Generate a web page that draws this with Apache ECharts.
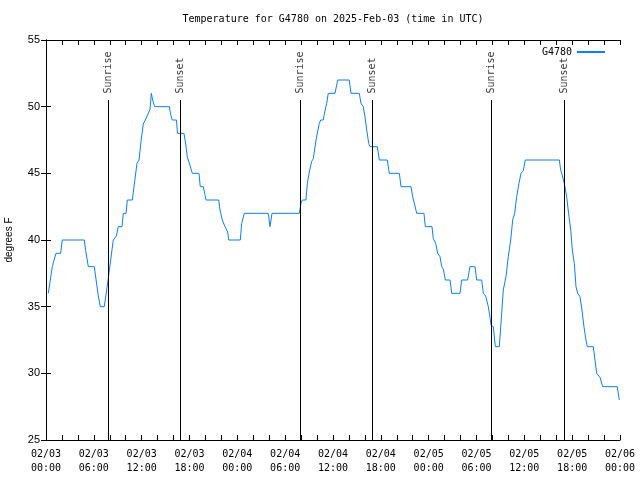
<!DOCTYPE html>
<html>
<head>
<meta charset="utf-8">
<script src="https://cdn.jsdelivr.net/npm/echarts@6/dist/echarts.min.js"></script>
<style>html,body{margin:0;padding:0;background:#fff}#c{width:640px;height:480px}</style>
</head>
<body>
<div id="c"></div>
<script>
// hours since 02/03 00:00 UTC
var hours = [0.29,0.79,1.00,1.25,1.84,2.04,4.80,4.98,5.31,6.06,6.56,6.81,7.31,7.74,8.44,8.82,9.07,9.53,9.70,10.04,
10.20,10.83,11.41,11.67,11.92,12.20,12.46,12.71,13.05,13.21,13.38,13.63,15.47,15.64,15.84,16.37,16.49,17.31,17.52,17.72,
18.06,18.35,19.19,19.35,19.73,19.94,20.07,21.66,21.83,22.11,22.45,22.79,22.92,24.37,24.55,24.87,27.88,28.10,28.35,31.77,
31.99,32.15,32.61,32.78,33.03,33.33,33.53,33.87,34.28,34.46,34.78,34.96,35.21,35.41,36.25,36.59,38.04,38.26,39.30,39.51,
39.80,40.01,40.23,40.48,40.64,41.56,41.81,42.81,43.06,44.32,44.53,45.78,46.00,46.50,47.41,47.58,48.42,48.58,48.88,49.13,
49.42,49.64,49.84,50.09,50.68,50.89,51.93,52.14,52.89,53.18,53.81,54.02,54.65,54.85,55.15,55.48,55.69,55.82,56.11,56.36,
56.86,57.16,57.36,57.70,57.99,58.29,58.54,58.79,59.04,59.33,59.58,59.87,60.12,64.39,64.56,64.69,64.89,65.01,65.31,65.60,
65.82,66.02,66.27,66.48,66.69,66.98,67.23,67.48,67.73,67.90,68.65,68.86,69.08,69.33,69.49,69.83,71.66,71.91];
var temps = [36,38,38,39,39,40,40,39.2,38,38,35.8,35,35,36.8,40,40.3,41,41,42,42,
43,43,45.75,46,47.4,48.7,49,49.1,49.8,51,50.5,50,50,49.4,49,49,48,48,47.2,46.25,
45.6,45,45,44,44,43.4,43,43,42.25,41.5,41,40.6,40,40,41.25,42,42,41,42,42,
42.75,43,43,44.25,45.1,45.9,46.1,47.5,48.75,49,49,49.6,50.25,51,51,52,52,51,51,50.25,
50,49.25,48.25,47.25,47,47,46,46,45,45,44,44,43.25,42,42,41,41,40.1,39.75,39,
38.75,38,37.8,37,37,36,36,37,37,38,38,37,37,36,35.8,35,34.25,33.6,33.5,32,
32,34.5,36.25,37.25,38.75,40,41.5,42,43.25,44.25,45,45.2,46,46,45.25,45,45,44.25,43.25,41.75,
40.75,39.25,38.25,36.5,36,35.75,34.75,33.5,32.5,32,32,31,30,30,29.7,29,29,28];

var eventHours = [7.81, 16.87, 31.92, 40.98, 55.86, 65.01];
var eventNames = ['Sunrise','Sunset','Sunrise','Sunset','Sunrise','Sunset'];
var eventTop = 50.5;

var xTickLabels = ['02/03\n00:00','02/03\n06:00','02/03\n12:00','02/03\n18:00','02/04\n00:00','02/04\n06:00',
'02/04\n12:00','02/04\n18:00','02/05\n00:00','02/05\n06:00','02/05\n12:00','02/05\n18:00','02/06\n00:00'];
var yTicks = [25,30,35,40,45,50,55];

var lineData = hours.map(function(h,i){return [h,temps[i]];});
var markData = eventHours.map(function(h){return [{coord:[h,25]},{coord:[h,eventTop]}];});
var labelData = eventHours.map(function(h,i){return {value:[h,eventTop],name:eventNames[i]};});

var mono = 'DejaVu Sans Mono';
var chart = echarts.init(document.getElementById('c'), null, {renderer:'canvas'});
chart.setOption({
  animation:false,
  backgroundColor:'#fff',
  graphic:[{type:'text', x:333, y:19, style:{text:'Temperature for G4780 on 2025-Feb-03 (time in UTC)', font:'10px "DejaVu Sans Mono"', fill:'#000', textAlign:'center', textVerticalAlign:'middle'}}],
  grid:{left:46,right:20,top:40,bottom:40,containLabel:false,outerBoundsMode:'none'},
  legend:{data:['G4780'], right:30, top:42, align:'right', itemWidth:28, itemHeight:2, icon:'rect', itemGap:5,
    textStyle:{fontFamily:mono,fontSize:10,color:'#000'}},
  xAxis:[{type:'value',min:0,max:72,interval:6,position:'bottom',
    axisLine:{lineStyle:{color:'#000',width:1}},
    axisTick:{inside:true,length:5,lineStyle:{color:'#000'}},
    minorTick:{show:true,splitNumber:3,length:5,lineStyle:{color:'#000'}},
    splitLine:{show:false},
    axisLabel:{margin:7,fontFamily:mono,fontSize:10,color:'#000',lineHeight:14,
      formatter:function(v){return xTickLabels[Math.round(v/6)];}}},
    {type:'value',min:0,max:72,interval:6,position:'top',
    axisLine:{lineStyle:{color:'#000',width:1}},
    axisTick:{inside:true,length:5,lineStyle:{color:'#000'}},
    minorTick:{show:true,splitNumber:3,length:5,lineStyle:{color:'#000'}},
    splitLine:{show:false},axisLabel:{show:false}}],
  yAxis:[{type:'value',min:yTicks[0],max:yTicks[yTicks.length-1],interval:5,position:'left',
    name:'degrees F',nameLocation:'middle',nameGap:32,nameRotate:90,
    nameTextStyle:{fontFamily:'Liberation Sans',fontSize:10,color:'#000'},
    axisLine:{show:true,lineStyle:{color:'#000',width:1}},
    axisTick:{show:true,inside:true,length:5,lineStyle:{color:'#000'}},
    splitLine:{show:false},
    axisLabel:{margin:6,fontFamily:'Liberation Sans',fontSize:11,color:'#000'}},
    {type:'value',min:yTicks[0],max:yTicks[yTicks.length-1],interval:5,position:'right',
    axisLine:{show:true,lineStyle:{color:'#000',width:1}},
    axisTick:{show:true,inside:true,length:5,lineStyle:{color:'#000'}},
    splitLine:{show:false},axisLabel:{show:false}}],
  series:[
    {name:'G4780',type:'line',data:lineData,showSymbol:false,symbol:'none',
      lineStyle:{color:'#0a7fff',width:1},itemStyle:{color:'#0a7fff'},
      markLine:{silent:true,symbol:['none','none'],animation:false,
        lineStyle:{color:'#000',width:1,type:'solid'},label:{show:false},data:markData}},
    {name:'events',type:'scatter',data:labelData,symbolSize:1,itemStyle:{color:'rgba(0,0,0,0)'},silent:true,
      label:{show:true,formatter:'{b}',rotate:90,position:'top',distance:6,align:'left',verticalAlign:'middle',
        fontFamily:mono,fontSize:10,color:'#000'}}
  ]
});
</script>
</body>
</html>
